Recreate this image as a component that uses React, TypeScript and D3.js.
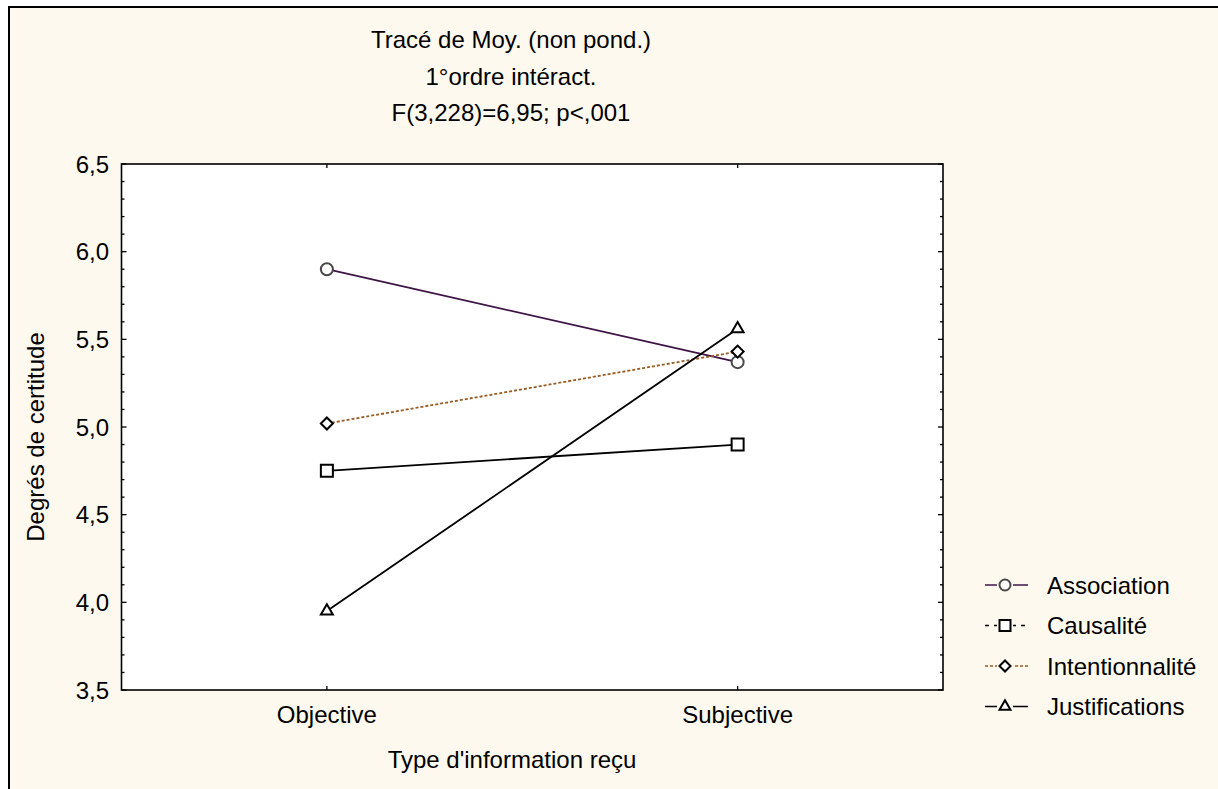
import React, { useEffect, useRef } from 'react';
import * as d3 from 'd3';

// chart values
const categories = ['Objective', 'Subjective'];
const seriesNames = ['Association', 'Causalité', 'Intentionnalité', 'Justifications'];
const association = [5.9, 5.37];
const causalite = [4.75, 4.9];
const intentionnalite = [5.02, 5.43];
const justifications = [3.95, 5.56];
const yTicks = [3.5, 4.0, 4.5, 5.0, 5.5, 6.0, 6.5];
const titleLines = ['Tracé de Moy. (non pond.)', '1°ordre intéract.', 'F(3,228)=6,95; p<,001'];

const W = 1218;
const H = 789;
const FONT = 'Arial, "Liberation Sans", sans-serif';
const FS = 24;

const App = () => {
  const svgRef = useRef<SVGSVGElement>(null);

  useEffect(() => {
    const svg = d3.select(svgRef.current);
    svg.selectAll('*').remove();

    const plot = { left: 121.5, right: 943, top: 164, bottom: 690 };

    const x = d3.scalePoint<string>().domain(categories)
      .range([plot.left, plot.right]).padding(0.5);
    const y = d3.scaleLinear().domain([3.5, 6.5]).range([plot.bottom, plot.top]);

    // backgrounds + outer frame
    svg.append('rect').attr('width', W).attr('height', H).attr('fill', '#ffffff');
    svg.append('rect').attr('x', 8).attr('y', 6).attr('width', W).attr('height', H)
      .attr('fill', '#fef9ef');
    svg.append('path').attr('d', `M9,${H} V7 H${W}`)
      .attr('fill', 'none').attr('stroke', '#000').attr('stroke-width', 2);

    svg.append('rect')
      .attr('x', plot.left).attr('y', plot.top)
      .attr('width', plot.right - plot.left).attr('height', plot.bottom - plot.top)
      .attr('fill', '#ffffff');

    // titles
    svg.append('g').selectAll('text').data(titleLines).enter().append('text')
      .attr('x', 511).attr('y', (d, i) => 48 + i * 36.5)
      .attr('text-anchor', 'middle')
      .attr('font-family', FONT).attr('font-size', FS).attr('fill', '#000')
      .text(d => d);

    // y ticks (minor every 0.1, major every 0.5) on left and right
    const minor = d3.range(35, 66).map(v => v / 10);
    const ticks = svg.append('g').attr('stroke', '#000').attr('stroke-width', 1.3);
    minor.forEach(v => {
      const major = Math.abs(v * 2 - Math.round(v * 2)) < 1e-6;
      const len = major ? 5 : 3;
      ticks.append('line').attr('x1', plot.left).attr('x2', plot.left + len)
        .attr('y1', y(v)).attr('y2', y(v));
      ticks.append('line').attr('x1', plot.right).attr('x2', plot.right - len)
        .attr('y1', y(v)).attr('y2', y(v));
    });
    categories.forEach(c => {
      ticks.append('line').attr('x1', x(c)).attr('x2', x(c))
        .attr('y1', plot.bottom).attr('y2', plot.bottom - 4);
      ticks.append('line').attr('x1', x(c)).attr('x2', x(c))
        .attr('y1', plot.top).attr('y2', plot.top + 4);
    });

    svg.append('g').selectAll('text').data(yTicks).enter().append('text')
      .attr('x', 109).attr('y', d => y(d)).attr('dy', '0.36em')
      .attr('text-anchor', 'end')
      .attr('font-family', FONT).attr('font-size', FS).attr('fill', '#000')
      .text(d => d3.format('.1f')(d).replace('.', ','));

    svg.append('g').selectAll('text').data(categories).enter().append('text')
      .attr('x', d => x(d) as number).attr('y', 723)
      .attr('text-anchor', 'middle')
      .attr('font-family', FONT).attr('font-size', FS).attr('fill', '#000')
      .text(d => d);

    svg.append('text')
      .attr('x', 512).attr('y', 768).attr('text-anchor', 'middle')
      .attr('font-family', FONT).attr('font-size', FS).attr('fill', '#000')
      .text("Type d'information reçu");

    svg.append('text')
      .attr('transform', `translate(44,${(plot.top + plot.bottom) / 2 + 10}) rotate(-90)`)
      .attr('text-anchor', 'middle')
      .attr('font-family', FONT).attr('font-size', FS).attr('fill', '#000')
      .text('Degrés de certitude');

    // series
    const series = [
      { name: seriesNames[0], values: association, color: '#3e1446', dash: null, legendDash: null, marker: 'circle', mstroke: '#4a4a4a' },
      { name: seriesNames[1], values: causalite, color: '#000000', dash: null, legendDash: '4,5', marker: 'square', mstroke: '#000' },
      { name: seriesNames[2], values: intentionnalite, color: '#9a5a20', dash: '3,2', legendDash: '3,2', marker: 'diamond', mstroke: '#000' },
      { name: seriesNames[3], values: justifications, color: '#000000', dash: null, legendDash: null, marker: 'triangle', mstroke: '#000' },
    ];

    const symbolType: Record<string, d3.SymbolType> = {
      circle: d3.symbolCircle,
      square: d3.symbolSquare,
      diamond: d3.symbolSquare,
      triangle: d3.symbolTriangle,
    };
    const drawMarker = (g: any, kind: string, cx: number, cy: number, size: number, stroke: string, sw: number) => {
      const areas: Record<string, number> = {
        circle: Math.PI * size * size / 4,
        square: size * size,
        diamond: size * size * 0.5,
        triangle: size * size * 0.43,
      };
      g.append('path')
        .attr('d', d3.symbol().type(symbolType[kind]).size(areas[kind])())
        .attr('transform', `translate(${cx},${cy})${kind === 'diamond' ? ' rotate(45)' : ''}`)
        .attr('fill', '#fff').attr('stroke', stroke).attr('stroke-width', sw);
    };

    const line = d3.line<number>().x((d, i) => x(categories[i]) as number).y(d => y(d));
    const lines = svg.append('g');
    series.forEach(s => {
      lines.append('path').datum(s.values).attr('d', line)
        .attr('fill', 'none').attr('stroke', s.color).attr('stroke-width', 1.8)
        .attr('stroke-dasharray', s.dash);
    });
    const marks = svg.append('g');
    series.forEach(s => {
      s.values.forEach((v, i) => drawMarker(marks, s.marker, x(categories[i]) as number, y(v), 12, s.mstroke, 2));
    });

    // plot border
    svg.append('rect')
      .attr('x', plot.left).attr('y', plot.top)
      .attr('width', plot.right - plot.left).attr('height', plot.bottom - plot.top)
      .attr('fill', 'none').attr('stroke', '#000').attr('stroke-width', 1.6);

    // legend
    const legend = svg.append('g');
    series.forEach((s, i) => {
      const ly = 585 + i * 40.5;
      legend.append('line').attr('x1', 985).attr('x2', 1028).attr('y1', ly).attr('y2', ly)
        .attr('stroke', s.color).attr('stroke-width', 1.6)
        .attr('stroke-dasharray', s.legendDash);
      legend.append('rect').attr('x', 997).attr('y', ly - 7).attr('width', 16).attr('height', 14)
        .attr('fill', '#fef9ef');
      drawMarker(legend, s.marker, 1005, ly, 11, s.mstroke, 2);
      legend.append('text').attr('x', 1047).attr('y', ly).attr('dy', '0.36em')
        .attr('font-family', FONT).attr('font-size', FS).attr('fill', '#000')
        .text(s.name);
    });
  });

  return (
    <svg ref={svgRef} width={W} height={H}
      style={{ position: 'absolute', left: 0, top: 0, display: 'block' }} />
  );
};

export default App;
